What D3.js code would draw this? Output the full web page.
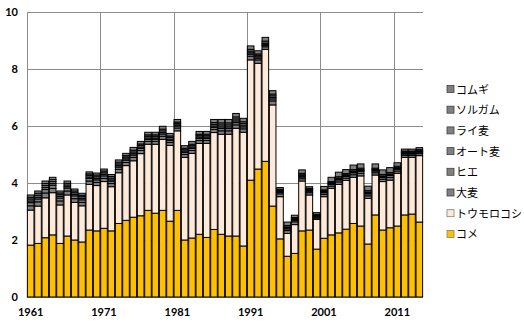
<!DOCTYPE html>
<html>
<head>
<meta charset="utf-8">
<script src="https://cdn.jsdelivr.net/npm/d3@7"></script>
<style>
  html, body { margin: 0; padding: 0; background: #fff; }
  svg { display: block; }
  .tick-label { font-family: Lato, "Liberation Sans", sans-serif; font-weight: bold; font-size: 11px; fill: #000; }
  .legend-label { font-family: "Noto Sans CJK JP", sans-serif; font-size: 11px; fill: #000; }
</style>
</head>
<body>
<svg id="chart" width="524" height="322"></svg>
<script>
// Grain production, 1961-2014 (million tonnes), stacked by crop
const years = d3.range(1961, 2015);

const rice = [1.82,1.88,2.08,2.18,1.88,2.14,2.00,1.93,2.35,2.32,
              2.41,2.32,2.58,2.69,2.80,2.85,3.04,2.94,3.04,2.66,
              3.04,2.00,2.07,2.20,2.09,2.37,2.20,2.14,2.14,1.79,
              4.10,4.49,4.76,3.19,2.04,1.43,1.53,2.32,2.35,1.68,
              2.06,2.18,2.25,2.38,2.58,2.49,1.86,2.88,2.35,2.43,
              2.49,2.88,2.91,2.63];
const maize = [1.23,1.31,1.40,1.48,1.35,1.44,1.32,1.27,1.60,1.59,
               1.64,1.55,1.78,1.92,1.98,2.18,2.32,2.42,2.49,2.66,
               2.79,2.90,2.97,3.19,3.30,3.40,3.51,3.57,3.78,3.99,
               4.22,3.71,3.93,3.55,1.48,0.80,1.01,1.75,1.23,1.04,
               1.46,1.63,1.70,1.71,1.62,1.76,1.60,1.40,1.70,1.67,
               1.85,2.02,1.99,2.33];
const barley = [0.15,0.15,0.17,0.15,0.14,0.14,0.13,0.12,0.12,0.11,
                0.11,0.11,0.12,0.11,0.12,0.11,0.10,0.10,0.11,0.10,
                0.10,0.10,0.10,0.10,0.10,0.11,0.12,0.12,0.12,0.12,
                0.13,0.12,0.09,0.14,0.10,0.10,0.10,0.08,0.08,0.05,
                0.08,0.08,0.09,0.08,0.09,0.09,0.09,0.08,0.08,0.09,
                0.08,0.07,0.07,0.07];
const millet = [0.11,0.10,0.12,0.11,0.10,0.10,0.10,0.09,0.09,0.09,
                0.09,0.08,0.08,0.08,0.08,0.07,0.07,0.07,0.08,0.07,
                0.07,0.07,0.07,0.07,0.07,0.07,0.08,0.08,0.08,0.07,
                0.07,0.06,0.05,0.07,0.05,0.06,0.05,0.06,0.05,0.03,
                0.06,0.06,0.07,0.06,0.07,0.07,0.07,0.06,0.06,0.07,
                0.06,0.05,0.05,0.05];
const oats = [0.06,0.06,0.07,0.06,0.06,0.05,0.05,0.05,0.05,0.05,
              0.05,0.05,0.05,0.05,0.05,0.05,0.05,0.05,0.05,0.05,
              0.04,0.05,0.05,0.05,0.05,0.05,0.06,0.06,0.06,0.06,
              0.05,0.05,0.04,0.05,0.03,0.04,0.03,0.04,0.03,0.03,
              0.03,0.03,0.03,0.03,0.03,0.03,0.03,0.03,0.03,0.03,
              0.03,0.03,0.03,0.02];
const rye = [0.07,0.07,0.07,0.07,0.06,0.06,0.06,0.06,0.06,0.06,
             0.06,0.06,0.06,0.06,0.06,0.06,0.06,0.06,0.06,0.06,
             0.05,0.05,0.05,0.05,0.05,0.06,0.07,0.07,0.07,0.06,
             0.06,0.05,0.04,0.06,0.04,0.03,0.03,0.04,0.03,0.03,
             0.03,0.03,0.03,0.03,0.03,0.03,0.03,0.03,0.03,0.03,
             0.03,0.03,0.03,0.03];
const sorghum = [0.06,0.07,0.07,0.07,0.06,0.06,0.06,0.05,0.05,0.06,
                 0.06,0.06,0.06,0.05,0.06,0.05,0.05,0.05,0.06,0.05,
                 0.05,0.05,0.05,0.05,0.05,0.06,0.07,0.07,0.07,0.06,
                 0.06,0.05,0.07,0.06,0.04,0.05,0.04,0.05,0.04,0.04,
                 0.04,0.04,0.05,0.04,0.05,0.05,0.05,0.04,0.05,0.05,
                 0.05,0.04,0.04,0.04];
const wheat = [0.08,0.08,0.09,0.08,0.07,0.08,0.07,0.07,0.07,0.07,
               0.07,0.07,0.08,0.08,0.10,0.09,0.09,0.09,0.10,0.09,
               0.09,0.09,0.10,0.10,0.10,0.11,0.12,0.12,0.12,0.12,
               0.12,0.11,0.13,0.12,0.06,0.12,0.08,0.12,0.06,0.06,
               0.12,0.15,0.16,0.14,0.16,0.15,0.16,0.15,0.16,0.17,
               0.12,0.07,0.07,0.07];

// Stack order bottom -> top, with legend labels and fills
const seriesKeys = ["rice","maize","barley","millet","oats","rye","sorghum","wheat"];
const seriesNames = ["コメ","トウモロコシ","大麦","ヒエ","オート麦","ライ麦","ソルガム","コムギ"];
const seriesValues = {rice, maize, barley, millet, oats, rye, sorghum, wheat};
const yTicks = [0, 2, 4, 6, 8, 10];
const xLabelYears = [1961, 1971, 1981, 1991, 2001, 2011];

const fills = {
  rice: "#FFC000", maize: "#FDEADA",
  barley: "#808080", millet: "#808080", oats: "#808080",
  rye: "#808080", sorghum: "#808080", wheat: "#808080"
};

const rows = years.map((yr, i) => {
  const r = {year: yr};
  seriesKeys.forEach(k => r[k] = seriesValues[k][i]);
  return r;
});

const svg = d3.select("#chart");
const margin = {left: 27, right: 101, top: 12, bottom: 25};
const W = 524, H = 322;
const plotW = W - margin.left - margin.right;
const plotH = H - margin.top - margin.bottom;

const x = d3.scaleBand().domain(years).range([margin.left, margin.left + plotW])
  .paddingInner(0.1).paddingOuter(0.05);
const y = d3.scaleLinear().domain([0, 10]).range([margin.top + plotH, margin.top]);

const g = svg.append("g");

// horizontal gridlines
g.selectAll("line.hgrid").data(yTicks).join("line")
  .attr("x1", margin.left).attr("x2", margin.left + plotW)
  .attr("y1", d => Math.round(y(d)) + 0.5).attr("y2", d => Math.round(y(d)) + 0.5)
  .attr("stroke", "#8c8c8c").attr("stroke-width", 1);

// vertical gridlines every ten years, between categories
const boundaryX = yr => margin.left + (yr - 1961) * (plotW / years.length);
g.selectAll("line.vgrid").data(xLabelYears).join("line")
  .attr("x1", d => Math.round(boundaryX(d)) + 0.5).attr("x2", d => Math.round(boundaryX(d)) + 0.5)
  .attr("y1", margin.top).attr("y2", margin.top + plotH)
  .attr("stroke", "#8c8c8c").attr("stroke-width", 1);

// stacked bars
const stack = d3.stack().keys(seriesKeys);
const layers = stack(rows);
g.selectAll("g.layer").data(layers).join("g")
  .attr("fill", d => fills[d.key])
  .selectAll("rect").data(d => d).join("rect")
  .attr("x", d => x(d.data.year))
  .attr("width", x.bandwidth())
  .attr("y", d => y(d[1]))
  .attr("height", d => y(d[0]) - y(d[1]))
  .attr("stroke", "#000").attr("stroke-width", 1);

// y tick labels
g.selectAll("text.ylab").data(yTicks).join("text")
  .attr("class", "tick-label")
  .attr("x", 18).attr("y", d => y(d) + 4)
  .attr("text-anchor", "end")
  .text(d => d);

// x tick labels
g.selectAll("text.xlab").data(xLabelYears).join("text")
  .attr("class", "tick-label")
  .attr("x", d => x(d) + x.bandwidth() / 2)
  .attr("y", 316)
  .attr("text-anchor", "middle")
  .text(d => d);

// legend, top series first
const legendItems = seriesKeys.map((k, i) => ({key: k, name: seriesNames[i]})).reverse();
const lg = svg.append("g").attr("transform", "translate(447,90)");
const item = lg.selectAll("g").data(legendItems).join("g")
  .attr("transform", (d, i) => `translate(0,${i * 20.7})`);
item.append("rect")
  .attr("x", 0).attr("y", -4.5).attr("width", 7).attr("height", 7)
  .attr("fill", d => fills[d.key])
  .attr("stroke", d => d.key === "rice" || d.key === "maize" ? "#7f7f7f" : "#404040")
  .attr("stroke-width", 0.8);
item.append("text")
  .attr("class", "legend-label")
  .attr("x", 9).attr("y", 3.5)
  .text(d => d.name);
</script>
</body>
</html>
